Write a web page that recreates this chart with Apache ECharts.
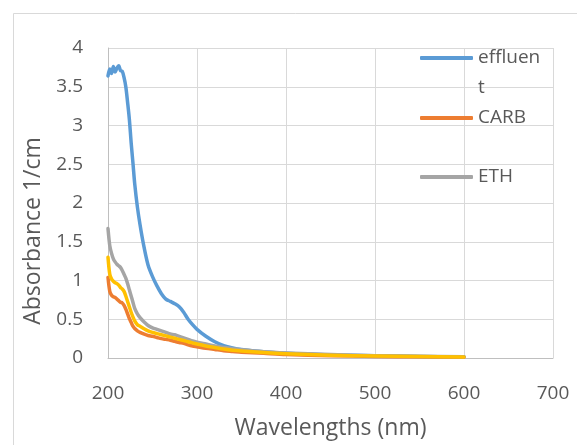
<!DOCTYPE html>
<html>
<head>
<meta charset="utf-8">
<script src="https://cdn.jsdelivr.net/npm/echarts@6/dist/echarts.min.js"></script>
<style>
html,body{margin:0;padding:0;background:#fff;}
#chart{width:577px;height:445px;}
</style>
</head>
<body>
<div id="chart"></div>
<script>
// Wavelengths (nm)
const wavelengths = [200,202,204,206,208,210,212,214,216,218,220,222,224,226,228,230,233,236,240,245,250,255,260,265,270,275,280,285,290,295,300,310,320,330,340,350,375,400,450,500,550,600];
const effluent = [3.64,3.73,3.67,3.76,3.69,3.74,3.77,3.71,3.70,3.62,3.50,3.30,3.08,2.78,2.52,2.25,1.95,1.72,1.46,1.20,1.05,0.93,0.83,0.76,0.73,0.70,0.66,0.59,0.50,0.43,0.37,0.28,0.21,0.16,0.13,0.11,0.08,0.06,0.04,0.03,0.02,0.015];
const carb = [1.04,0.86,0.81,0.79,0.78,0.76,0.74,0.72,0.71,0.68,0.63,0.57,0.51,0.46,0.41,0.38,0.35,0.33,0.31,0.29,0.28,0.265,0.25,0.24,0.23,0.215,0.20,0.19,0.17,0.155,0.145,0.125,0.11,0.095,0.085,0.075,0.06,0.045,0.03,0.02,0.015,0.01];
const eth = [1.67,1.45,1.35,1.28,1.24,1.21,1.19,1.17,1.13,1.08,1.03,0.96,0.88,0.80,0.72,0.64,0.57,0.52,0.47,0.42,0.39,0.37,0.35,0.33,0.31,0.30,0.28,0.26,0.24,0.22,0.205,0.18,0.155,0.135,0.12,0.105,0.08,0.065,0.045,0.03,0.022,0.017];
const series4 = [1.30,1.08,1.02,0.99,0.97,0.96,0.94,0.91,0.89,0.86,0.80,0.73,0.66,0.59,0.53,0.48,0.43,0.41,0.38,0.35,0.33,0.315,0.30,0.285,0.27,0.255,0.24,0.225,0.21,0.195,0.18,0.155,0.135,0.115,0.10,0.09,0.07,0.055,0.035,0.025,0.018,0.012];
const xTicks = [200,300,400,500,600,700];
const yTicks = [0,0.5,1,1.5,2,2.5,3,3.5,4];

const pairs = arr => wavelengths.map((w,i)=>[w,arr[i]]);
const FONT = '"Open Sans", "Liberation Sans", sans-serif';
const TXT = '#595959';

const chart = echarts.init(document.getElementById('chart'), null, {renderer:'canvas'});
const mkLine = (name, data, color) => ({
  name, type:'line', data: pairs(data), symbol:'none', smooth:0.3,
  lineStyle:{color, width:3.5, cap:'round', join:'round'},
  itemStyle:{color}, emphasis:{disabled:true}, animation:false
});
const legendBase = {
  orient:'vertical', left:420, itemWidth:53, itemHeight:4, icon:'roundRect',
  selectedMode:false, padding:0,
  textStyle:{fontFamily:FONT, fontSize:19, color:TXT, lineHeight:30}
};
chart.setOption({
  animation:false,
  backgroundColor:'#fff',
  graphic:[{type:'rect', shape:{x:13.5,y:13.5,width:600,height:500}, style:{fill:'none',stroke:'#d9d9d9',lineWidth:1}, silent:true, z:-10}],
  grid:{left:108, top:48, right:24, bottom:77, containLabel:false},
  legend:[
    Object.assign({}, legendBase, {data:['effluent'], top:13, formatter:()=>'\neffluen\nt'}),
    Object.assign({}, legendBase, {data:['CARB'], top:103}),
    Object.assign({}, legendBase, {data:['ETH'], top:162})
  ],
  xAxis:{
    type:'value', min:xTicks[0], max:xTicks[xTicks.length-1], interval:100,
    name:'Wavelengths (nm)', nameLocation:'middle', nameGap:59,
    nameTextStyle:{fontFamily:FONT, fontSize:23, color:TXT},
    axisLine:{show:true, lineStyle:{color:'#bfbfbf', width:1}},
    axisTick:{show:false},
    axisLabel:{fontFamily:FONT, fontSize:19, color:TXT, margin:26},
    splitLine:{show:true, lineStyle:{color:'#d9d9d9', width:1}}
  },
  yAxis:{
    type:'value', min:yTicks[0], max:yTicks[yTicks.length-1], interval:0.5,
    name:'Absorbance 1/cm', nameLocation:'middle', nameGap:60,
    nameTextStyle:{fontFamily:FONT, fontSize:23, color:TXT, padding:[0,56,0,0]},
    axisLine:{show:true, lineStyle:{color:'#bfbfbf', width:1}},
    axisTick:{show:false},
    axisLabel:{fontFamily:FONT, fontSize:19, color:TXT, margin:25},
    splitLine:{show:true, lineStyle:{color:'#d9d9d9', width:1}}
  },
  series:[
    mkLine('effluent', effluent, '#5B9BD5'),
    mkLine('CARB', carb, '#ED7D31'),
    mkLine('ETH', eth, '#A5A5A5'),
    mkLine('Series4', series4, '#FFC000')
  ]
});
</script>
</body>
</html>
